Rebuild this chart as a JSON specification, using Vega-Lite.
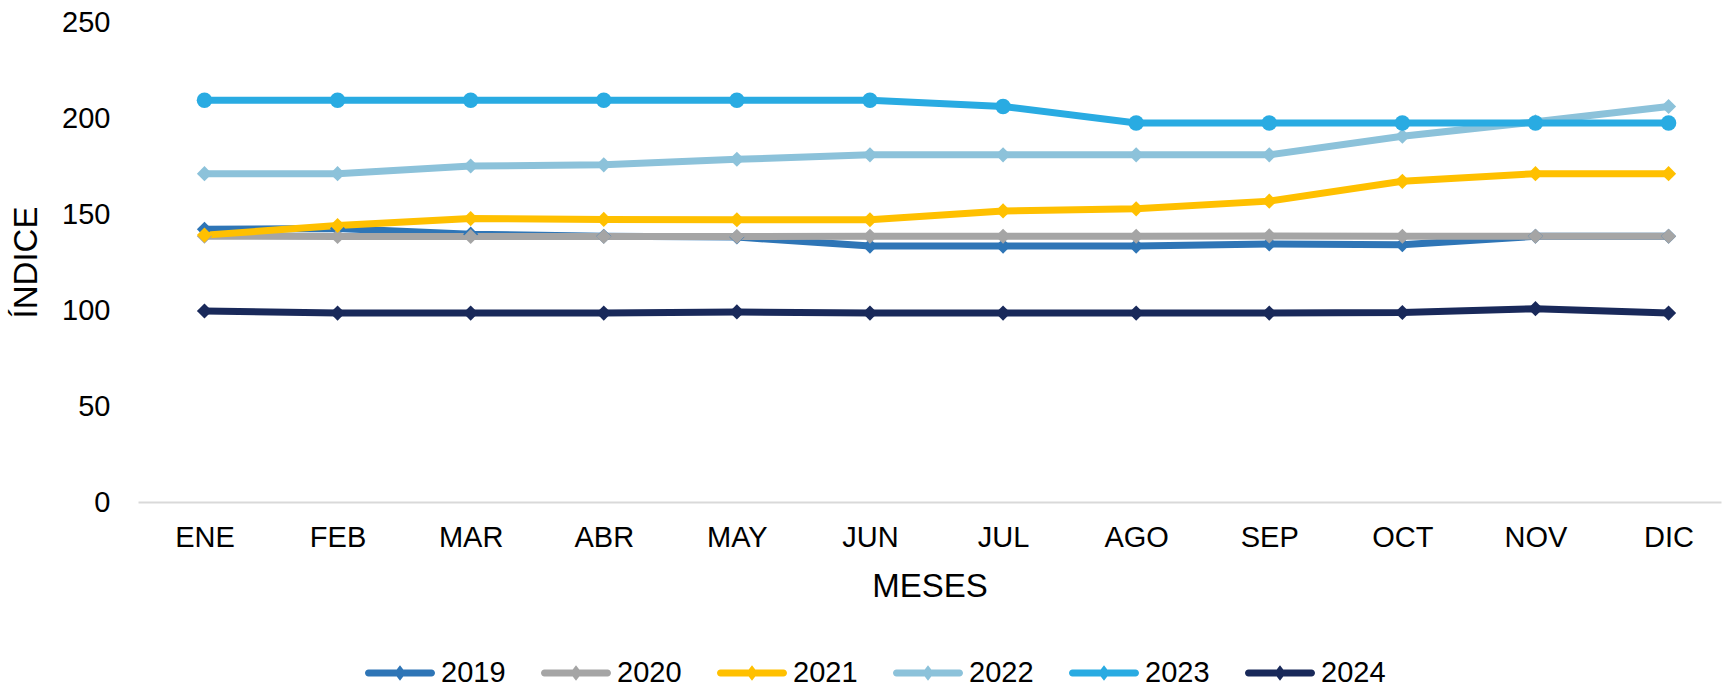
{
  "$schema": "https://vega.github.io/schema/vega-lite/v6.json",
  "width": 1583,
  "height": 480,
  "autosize": "none",
  "padding": {"left": 138, "top": 22, "right": 1, "bottom": 185},
  "background": "white",
  "config": {"view": {"stroke": null}, "font": "Liberation Sans"},
  "data": {"values": [
    {"mes": "ENE", "anio": "2019", "indice": 142},
    {"mes": "FEB", "anio": "2019", "indice": 142.5},
    {"mes": "MAR", "anio": "2019", "indice": 139.5},
    {"mes": "ABR", "anio": "2019", "indice": 138.4},
    {"mes": "MAY", "anio": "2019", "indice": 138},
    {"mes": "JUN", "anio": "2019", "indice": 133.3},
    {"mes": "JUL", "anio": "2019", "indice": 133.3},
    {"mes": "AGO", "anio": "2019", "indice": 133.3},
    {"mes": "SEP", "anio": "2019", "indice": 134.4},
    {"mes": "OCT", "anio": "2019", "indice": 134},
    {"mes": "NOV", "anio": "2019", "indice": 138.4},
    {"mes": "DIC", "anio": "2019", "indice": 138.4},
    {"mes": "ENE", "anio": "2020", "indice": 138.4},
    {"mes": "FEB", "anio": "2020", "indice": 138.3},
    {"mes": "MAR", "anio": "2020", "indice": 138.3},
    {"mes": "ABR", "anio": "2020", "indice": 138.3},
    {"mes": "MAY", "anio": "2020", "indice": 138.3},
    {"mes": "JUN", "anio": "2020", "indice": 138.4},
    {"mes": "JUL", "anio": "2020", "indice": 138.4},
    {"mes": "AGO", "anio": "2020", "indice": 138.4},
    {"mes": "SEP", "anio": "2020", "indice": 138.6},
    {"mes": "OCT", "anio": "2020", "indice": 138.4},
    {"mes": "NOV", "anio": "2020", "indice": 138.4},
    {"mes": "DIC", "anio": "2020", "indice": 138.4},
    {"mes": "ENE", "anio": "2021", "indice": 139},
    {"mes": "FEB", "anio": "2021", "indice": 144},
    {"mes": "MAR", "anio": "2021", "indice": 147.6},
    {"mes": "ABR", "anio": "2021", "indice": 147.2},
    {"mes": "MAY", "anio": "2021", "indice": 147},
    {"mes": "JUN", "anio": "2021", "indice": 147},
    {"mes": "JUL", "anio": "2021", "indice": 151.6},
    {"mes": "AGO", "anio": "2021", "indice": 152.7},
    {"mes": "SEP", "anio": "2021", "indice": 156.7},
    {"mes": "OCT", "anio": "2021", "indice": 167},
    {"mes": "NOV", "anio": "2021", "indice": 171},
    {"mes": "DIC", "anio": "2021", "indice": 171},
    {"mes": "ENE", "anio": "2022", "indice": 171},
    {"mes": "FEB", "anio": "2022", "indice": 171},
    {"mes": "MAR", "anio": "2022", "indice": 175},
    {"mes": "ABR", "anio": "2022", "indice": 175.6},
    {"mes": "MAY", "anio": "2022", "indice": 178.5},
    {"mes": "JUN", "anio": "2022", "indice": 180.8},
    {"mes": "JUL", "anio": "2022", "indice": 180.8},
    {"mes": "AGO", "anio": "2022", "indice": 180.8},
    {"mes": "SEP", "anio": "2022", "indice": 180.8},
    {"mes": "OCT", "anio": "2022", "indice": 190.5},
    {"mes": "NOV", "anio": "2022", "indice": 198},
    {"mes": "DIC", "anio": "2022", "indice": 206},
    {"mes": "ENE", "anio": "2023", "indice": 209.2},
    {"mes": "FEB", "anio": "2023", "indice": 209.2},
    {"mes": "MAR", "anio": "2023", "indice": 209.2},
    {"mes": "ABR", "anio": "2023", "indice": 209.2},
    {"mes": "MAY", "anio": "2023", "indice": 209.2},
    {"mes": "JUN", "anio": "2023", "indice": 209.2},
    {"mes": "JUL", "anio": "2023", "indice": 206},
    {"mes": "AGO", "anio": "2023", "indice": 197.4},
    {"mes": "SEP", "anio": "2023", "indice": 197.4},
    {"mes": "OCT", "anio": "2023", "indice": 197.4},
    {"mes": "NOV", "anio": "2023", "indice": 197.4},
    {"mes": "DIC", "anio": "2023", "indice": 197.4},
    {"mes": "ENE", "anio": "2024", "indice": 99.5},
    {"mes": "FEB", "anio": "2024", "indice": 98.4},
    {"mes": "MAR", "anio": "2024", "indice": 98.4},
    {"mes": "ABR", "anio": "2024", "indice": 98.4},
    {"mes": "MAY", "anio": "2024", "indice": 99},
    {"mes": "JUN", "anio": "2024", "indice": 98.4},
    {"mes": "JUL", "anio": "2024", "indice": 98.4},
    {"mes": "AGO", "anio": "2024", "indice": 98.4},
    {"mes": "SEP", "anio": "2024", "indice": 98.4},
    {"mes": "OCT", "anio": "2024", "indice": 98.7},
    {"mes": "NOV", "anio": "2024", "indice": 100.7},
    {"mes": "DIC", "anio": "2024", "indice": 98.4}
  ]},
  "encoding": {
    "x": {
      "field": "mes", "type": "ordinal",
      "sort": ["ENE","FEB","MAR","ABR","MAY","JUN","JUL","AGO","SEP","OCT","NOV","DIC"],
      "scale": {"type": "point", "padding": 0.4467, "align": 0.559},
      "axis": {
        "title": "MESES", "titleFontSize": 33, "titleFontWeight": "normal", "titleColor": "#000000", "titlePadding": 18,
        "labelAngle": 0, "labelFontSize": 29, "labelColor": "#000000", "labelPadding": 21,
        "ticks": false, "tickSize": 0, "domain": true, "domainColor": "#d9d9d9", "domainWidth": 2, "grid": false
      }
    },
    "y": {
      "field": "indice", "type": "quantitative",
      "scale": {"domain": [0, 250], "nice": false, "zero": true},
      "axis": {
        "title": "ÍNDICE", "titleFontSize": 33, "titleFontWeight": "normal", "titleColor": "#000000", "titlePadding": 18,
        "values": [0, 50, 100, 150, 200, 250],
        "labelFontSize": 29, "labelColor": "#000000", "labelPadding": 28,
        "ticks": false, "tickSize": 0, "domain": false, "grid": false
      }
    },
    "color": {
      "field": "anio", "type": "nominal",
      "scale": {
        "domain": ["2019","2020","2021","2022","2023","2024"],
        "range": ["#2E75B6","#A5A5A5","#FFC000","#8CC2DA","#29ABE2","#19295A"]
      },
      "legend": {
        "orient": "none", "direction": "horizontal", "legendX": 227, "legendY": 616,
        "title": null, "labelFontSize": 29, "labelColor": "#000000", "labelOffset": 6,
        "columnPadding": 35,
        "symbolType": "M-0.9,-0.1L0.9,-0.1A0.1,0.1 0 0 1 0.9,0.1L-0.9,0.1A0.1,0.1 0 0 1 -0.9,-0.1Z M0,-0.22L0.17,0L0,0.22L-0.17,0Z",
        "symbolSize": 4900, "symbolStrokeWidth": 0,
        "encode": {"symbols": {"update": {
          "fill": {"scale": "color", "field": "value"},
          "shape": {"value": "M-0.9,-0.1L0.9,-0.1A0.1,0.1 0 0 1 0.9,0.1L-0.9,0.1A0.1,0.1 0 0 1 -0.9,-0.1Z M0,-0.22L0.17,0L0,0.22L-0.17,0Z"},
          "size": {"value": 4900},
          "opacity": {"value": 1}, "strokeWidth": {"value": 0}}}}
      }
    }
  },
  "layer": [
    {"mark": {"type": "line", "strokeWidth": 7}},
    {
      "transform": [{"filter": "datum.anio != '2023'"}],
      "mark": {"type": "point", "filled": true, "opacity": 1, "size": 230, "shape": "diamond"}
    },
    {
      "transform": [{"filter": "datum.anio == '2023'"}],
      "mark": {"type": "point", "filled": true, "opacity": 1, "size": 240, "shape": "circle"}
    }
  ]
}
